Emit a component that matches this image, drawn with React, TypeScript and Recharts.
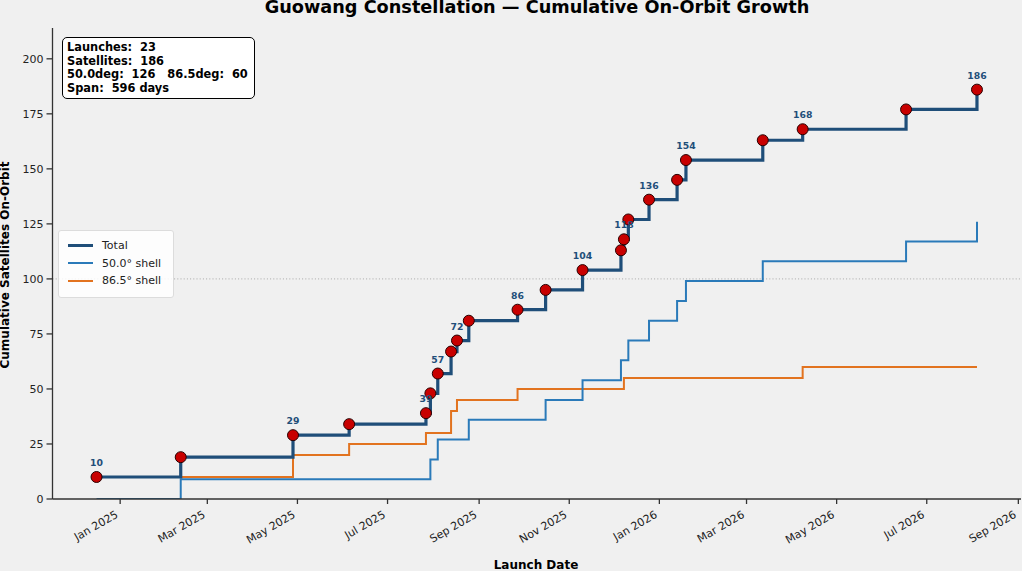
import React from 'react';
import { LineChart, Line, XAxis, YAxis, ReferenceLine, Legend, Label } from 'recharts';

const launchDates = [
  '2024-12-16', '2025-02-11', '2025-04-28', '2025-06-05', '2025-07-27', '2025-07-30',
  '2025-08-04', '2025-08-13', '2025-08-17', '2025-08-25', '2025-09-27', '2025-10-16',
  '2025-11-10', '2025-12-06', '2025-12-08', '2025-12-11', '2025-12-25', '2026-01-13',
  '2026-01-19', '2026-03-12', '2026-04-08', '2026-06-17', '2026-08-04',
];
const totalSats = [10, 19, 29, 34, 39, 48, 57, 67, 72, 81, 86, 95, 104, 113, 118, 127, 136, 145, 154, 163, 168, 177, 186];
const shell50 = [0, 9, 9, 9, 9, 18, 27, 27, 27, 36, 36, 45, 54, 63, 63, 72, 81, 90, 99, 108, 108, 117, 126];
const shell865 = [10, 10, 20, 25, 30, 30, 30, 40, 45, 45, 50, 50, 50, 50, 55, 55, 55, 55, 55, 55, 60, 60, 60];

const xTickDates = [
  '2025-01-01', '2025-03-01', '2025-05-01', '2025-07-01', '2025-09-01', '2025-11-01',
  '2026-01-01', '2026-03-01', '2026-05-01', '2026-07-01', '2026-09-01',
];
const xTickLabels = [
  'Jan 2025', 'Mar 2025', 'May 2025', 'Jul 2025', 'Sep 2025', 'Nov 2025',
  'Jan 2026', 'Mar 2026', 'May 2026', 'Jul 2026', 'Sep 2026',
];
const yTicks = [0, 25, 50, 75, 100, 125, 150, 175, 200];

const NAVY = '#1f4e79';
const BLUE = '#2a7ab9';
const ORANGE = '#e2731f';
const FONT = '"DejaVu Sans", sans-serif';

const data = launchDates.map((d, i) => ({
  t: Date.parse(d),
  total: totalSats[i],
  s50: shell50[i],
  s865: shell865[i],
}));

const tFirst = data[0].t;
const tLast = data[data.length - 1].t;
const span = tLast - tFirst;
const xDomain = [tFirst - 0.05 * span, tLast + 0.05 * span];
const spanDays = Math.round(span / 86400000);
const xTicks = xTickDates.map((d) => Date.parse(d));
const tickLabelOf = (v: number) => {
  const i = xTicks.indexOf(v);
  return i >= 0 ? xTickLabels[i] : '';
};

const XTick = (props: any) => {
  const { x, payload } = props;
  const ax = x - 1.3;
  const ay = 516.8;
  return (
    <text
      x={ax}
      y={ay}
      textAnchor="end"
      transform={`rotate(-30 ${ax} ${ay})`}
      fontSize={11}
      fontFamily={FONT}
      fill="#222"
    >
      {tickLabelOf(payload.value)}
    </text>
  );
};

const PointLabel = (props: any) => {
  const { x, y, index, value } = props;
  if (index % 2 !== 0) return null;
  return (
    <text
      x={x}
      y={y - 11}
      textAnchor="middle"
      fontSize={9.3}
      fontWeight="bold"
      fontFamily={FONT}
      fill={NAVY}
    >
      {value}
    </text>
  );
};

const legendItems = [
  { name: 'Total', color: NAVY, w: 3.2 },
  { name: '50.0° shell', color: BLUE, w: 2 },
  { name: '86.5° shell', color: ORANGE, w: 2 },
];

const renderLegend = () => (
  <div
    style={{
      width: 116,
      height: 68,
      boxSizing: 'border-box',
      background: 'rgba(255,255,255,0.85)',
      border: '1px solid #dcdcdc',
      borderRadius: 3,
      paddingTop: 6,
      fontFamily: FONT,
      fontSize: 11,
      color: '#222',
    }}
  >
    {legendItems.map((it) => (
      <div key={it.name} style={{ display: 'flex', alignItems: 'center', height: 17.5 }}>
        <div style={{ width: 25, height: it.w, background: it.color, marginLeft: 9, marginRight: 9 }} />
        <span style={{ whiteSpace: 'pre' }}>{it.name}</span>
      </div>
    ))}
  </div>
);

export default function App() {
  const last = data[data.length - 1];
  return (
    <div
      style={{
        position: 'absolute',
        left: 0,
        top: 0,
        width: 1022,
        height: 571,
        background: '#f0f0f0',
        fontFamily: FONT,
        overflow: 'hidden',
      }}
    >
      <div
        style={{
          position: 'absolute',
          left: 0,
          width: 1074,
          top: -3,
          textAlign: 'center',
          fontSize: 17.7,
          fontWeight: 'bold',
          color: '#000',
          whiteSpace: 'pre',
          lineHeight: '20px',
        }}
      >
        Guowang Constellation — Cumulative On-Orbit Growth
      </div>
      <LineChart
        width={1022}
        height={571}
        data={data}
        margin={{ top: 28, right: 1, left: 0, bottom: 0 }}
      >
        <XAxis
          dataKey="t"
          type="number"
          domain={xDomain}
          ticks={xTicks}
          tick={<XTick />}
          tickSize={5}
          height={72}
          stroke="#333"
          strokeWidth={1.3}
          allowDataOverflow
          interval={0}
        >
          <Label
            content={() => (
              <text x={536} y={568.5} textAnchor="middle" fontSize={12} fontWeight="bold" fontFamily={FONT} fill="#000">
                Launch Date
              </text>
            )}
          />
        </XAxis>
        <YAxis
          type="number"
          domain={[0, 214]}
          ticks={yTicks}
          width={52.5}
          tickSize={6}
          tickMargin={3}
          stroke="#333"
          strokeWidth={1.3}
          tick={{ fontSize: 11, fontFamily: FONT, fill: '#222' }}
          allowDataOverflow
          interval={0}
        >
          <Label
            content={() => (
              <text
                x={9}
                y={265}
                transform="rotate(-90 9 265)"
                textAnchor="middle"
                fontSize={12}
                fontWeight="bold"
                fontFamily={FONT}
                fill="#000"
              >
                Cumulative Satellites On-Orbit
              </text>
            )}
          />
        </YAxis>
        <ReferenceLine y={100} stroke="#a8a8a8" strokeWidth={1} strokeDasharray="1 2.2" />
        <Line
          dataKey="total"
          type="stepAfter"
          stroke="none"
          dot={false}
          label={<PointLabel />}
          legendType="none"
          isAnimationActive={false}
        />
        <Line dataKey="s865" name="86.5° shell" type="stepAfter" stroke={ORANGE} strokeWidth={2} dot={false} isAnimationActive={false} />
        <Line dataKey="s50" name="50.0° shell" type="stepAfter" stroke={BLUE} strokeWidth={2} dot={false} isAnimationActive={false} />
        <Line
          dataKey="total"
          name="Total"
          type="stepAfter"
          stroke={NAVY}
          strokeWidth={3.2}
          dot={{ r: 5.5, fill: '#c80000', stroke: '#2a0000', strokeWidth: 1 }}
          isAnimationActive={false}
        />
        <Legend
          content={renderLegend}
          layout="horizontal"
          align="center"
          verticalAlign="middle"
          wrapperStyle={{ position: 'absolute', left: 58, top: 230, width: 116, height: 68 }}
        />
      </LineChart>
      <div
        style={{
          position: 'absolute',
          left: 62,
          top: 37,
          width: 193,
          height: 62,
          boxSizing: 'border-box',
          border: '1px solid #000',
          borderRadius: 5,
          background: '#fff',
          padding: '3px 0 0 4px',
          fontSize: 11.4,
          fontWeight: 'bold',
          lineHeight: '13.5px',
          color: '#000',
          whiteSpace: 'pre',
        }}
      >
        <div>{`Launches:  ${data.length}`}</div>
        <div>{`Satellites:  ${last.total}`}</div>
        <div>{`50.0deg:  ${last.s50}   86.5deg:  ${last.s865}`}</div>
        <div>{`Span:  ${spanDays} days`}</div>
      </div>
    </div>
  );
}
